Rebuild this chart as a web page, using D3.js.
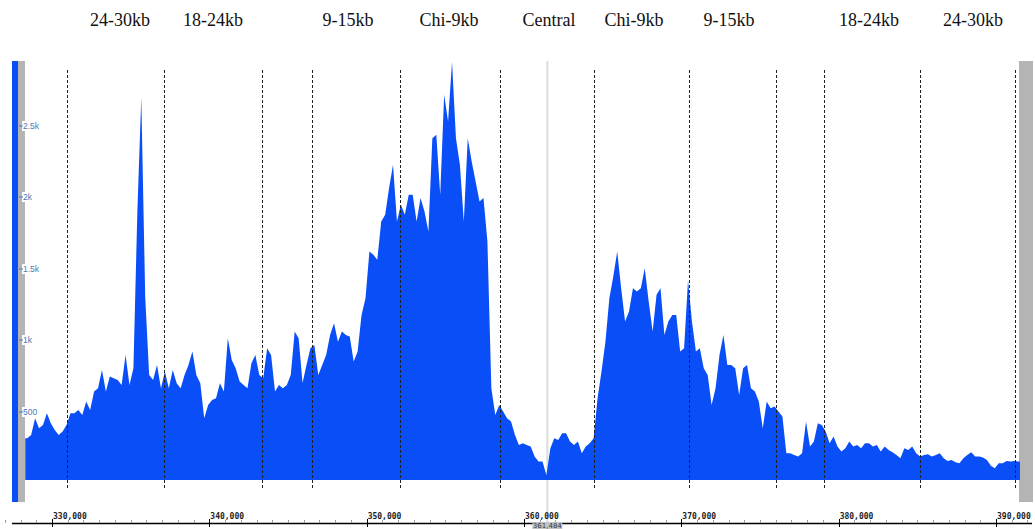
<!DOCTYPE html>
<html>
<head>
<meta charset="utf-8">
<script src="https://cdn.jsdelivr.net/npm/d3@7"></script>
<style>
  body { margin: 0; background: #fff; }
</style>
</head>
<body>
<div id="track"></div>
<script>
// Coverage bins (250 bp each, starting at 328,300).
const binStart = 328300;
const binStep = 250;
const coverage = [
  313,336,453,383,406,488,418,371,336,360,
  406,488,488,512,477,570,512,640,663,792,
  640,745,733,722,687,897,687,804,1900,2700,
  1300,757,722,827,663,780,663,792,698,663,
  757,827,920,757,698,453,547,582,593,698,
  640,1014,862,804,710,687,663,839,897,757,
  733,944,
  897,640,687,663,687,757,1061,1014,700,827,
  944,967,757,827,897,1037,1119,990,1061,1037,
  1026,850,920,1177,1294,1621,1598,1563,1831,1878,
  2065,2229,1831,1948,1878,2018,2018,1831,1995,1902,
  1761,2415,2439,2018,2719,2532,2950,2415,2229,1831,
  2415,2252,2112,1972,1995,1691,663,477,547,500,
  453,430,336,266,
  278,266,255,185,150,150,56,243,313,301,
  348,348,290,266,290,208,255,278,313,593,
  780,990,1294,1446,1621,1364,1131,1201,1364,1341,
  1364,1504,1271,1061,1318,1364,1037,1131,1177,1177,
  920,944,1420,1131,920,944,804,757,547,663,
  897,1037,827,827,804,617,804,827,663,640,
  570,383,570,
  523,535,500,465,208,208,196,185,208,430,
  255,290,418,406,360,278,325,255,220,243,
  290,255,266,243,278,278,255,266,220,255,
  231,215,196,173,243,231,255,208,185,196,
  201,185,196,208,173,154,161,145,138,173,
  196,215,185,185,178,161,121,103,138,138,
  154,150,154,150
];

// Region boundaries (dashed lines) and their labels.
const regionBounds = [330950, 337120, 343350, 346530, 352120, 358480,
                      364460, 370500, 376030, 379080, 385180, 391210];
const regionLabels = ["24-30kb", "18-24kb", "9-15kb", "Chi-9kb", "Central",
                      "Chi-9kb", "9-15kb", "18-24kb", "24-30kb"];
const regionLabelPos = [334320, 340230, 348810, 355230, 361590,
                        366990, 373030, 381930, 388540];

const yTicks = [500, 1000, 1500, 2000, 2500];
const xTicks = d3.range(330000, 390001, 10000);
const cursorPos = 361484;

const width = 1035;
const height = 529;
const blue = "#0a4ef7";

const svg = d3.select("#track")
  .append("svg")
    .attr("width", width)
    .attr("height", height)
    .attr("viewBox", [0, 0, width, height]);

const x = d3.scaleLinear().domain([330000, 390000]).range([52, 996]);
const y = d3.scaleLinear().domain([0, 2500]).range([483, 126]);

// side strips
svg.append("rect").attr("x", 12).attr("y", 61).attr("width", 6).attr("height", 441).attr("fill", blue);
svg.append("rect").attr("x", 18).attr("y", 61).attr("width", 7).attr("height", 441).attr("fill", "#b4b4b4");
svg.append("rect").attr("x", 1019).attr("y", 61).attr("width", 14).attr("height", 441).attr("fill", "#b4b4b4");

// cursor line
svg.append("line")
    .attr("x1", x(cursorPos)).attr("x2", x(cursorPos))
    .attr("y1", 61).attr("y2", 523)
    .attr("stroke", "#dcdcdc")
    .attr("stroke-width", 2);

// coverage
svg.append("clipPath").attr("id", "plot")
  .append("rect").attr("x", 25).attr("y", 61).attr("width", 995).attr("height", 419);

const pts = coverage.map((v, i) => [binStart + binStep * (i + 0.5), v]);
pts.unshift([binStart, coverage[0]]);
pts.push([binStart + binStep * coverage.length, coverage[coverage.length - 1]]);

const area = d3.area()
    .x(d => x(d[0]))
    .y0(y(0))
    .y1(d => y(d[1]));

svg.append("path")
    .datum(pts)
    .attr("clip-path", "url(#plot)")
    .attr("fill", blue)
    .attr("d", area);

// region boundaries
svg.selectAll(".bound")
  .data(regionBounds)
  .join("line")
    .attr("class", "bound")
    .attr("x1", d => Math.round(x(d)) + 0.5)
    .attr("x2", d => Math.round(x(d)) + 0.5)
    .attr("y1", 70)
    .attr("y2", 489)
    .attr("stroke", "#222")
    .attr("stroke-width", 1)
    .attr("stroke-dasharray", "3,2");

svg.selectAll(".rlabel")
  .data(regionLabels)
  .join("text")
    .attr("class", "rlabel")
    .attr("x", (d, i) => x(regionLabelPos[i]))
    .attr("y", 26)
    .attr("text-anchor", "middle")
    .style("font", "18px 'Liberation Serif', serif")
    .attr("fill", "#111")
    .text(d => d);

// y ticks
const fmtY = d => d >= 1000 ? (d / 1000) + "k" : d;
const yt = svg.selectAll(".yt")
  .data(yTicks)
  .join("g")
    .attr("class", "yt")
    .attr("transform", d => `translate(0,${Math.round(y(d))})`);

yt.append("rect")
    .attr("x", 22).attr("y", -5)
    .attr("width", d => fmtY(d).toString().length * 4.6 + 2)
    .attr("height", 10)
    .attr("fill", "#fff");
yt.append("line")
    .attr("x1", 19).attr("x2", 23)
    .attr("stroke", "#4a78b8");
yt.append("text")
    .attr("x", 23)
    .attr("dy", "0.35em")
    .style("font", "8.5px 'Liberation Sans', sans-serif")
    .attr("fill", "#4a78b8")
    .text(fmtY);

// x axis
svg.append("line")
    .attr("x1", 12).attr("x2", 1032)
    .attr("y1", 523.5).attr("y2", 523.5)
    .attr("stroke", "#000")
    .attr("stroke-width", 1.5);

svg.selectAll(".minor")
  .data(d3.range(327000, 392001, 1000))
  .join("line")
    .attr("class", "minor")
    .attr("x1", d => Math.round(x(d)) + 0.5)
    .attr("x2", d => Math.round(x(d)) + 0.5)
    .attr("y1", 520)
    .attr("y2", 523)
    .attr("stroke", "#999");

svg.selectAll(".major")
  .data(xTicks)
  .join("line")
    .attr("class", "major")
    .attr("x1", d => Math.round(x(d)) + 0.5)
    .attr("x2", d => Math.round(x(d)) + 0.5)
    .attr("y1", 519)
    .attr("y2", 527)
    .attr("stroke", "#000");

svg.selectAll(".xlab")
  .data(xTicks)
  .join("text")
    .attr("class", "xlab")
    .attr("x", d => x(d) + 1)
    .attr("y", 519)
    .style("font", "bold 8px 'DejaVu Sans Mono', monospace")
    .attr("fill", "#222")
    .text(d3.format(","));

// cursor position box
svg.append("rect")
    .attr("x", x(cursorPos) - 15).attr("y", 522)
    .attr("width", 30).attr("height", 7)
    .attr("fill", "#c4c4c4");
svg.append("text")
    .attr("x", x(cursorPos))
    .attr("y", 528)
    .attr("text-anchor", "middle")
    .style("font", "7px 'DejaVu Sans', sans-serif")
    .attr("fill", "#333")
    .text(d3.format(",")(cursorPos));
</script>
</body>
</html>
